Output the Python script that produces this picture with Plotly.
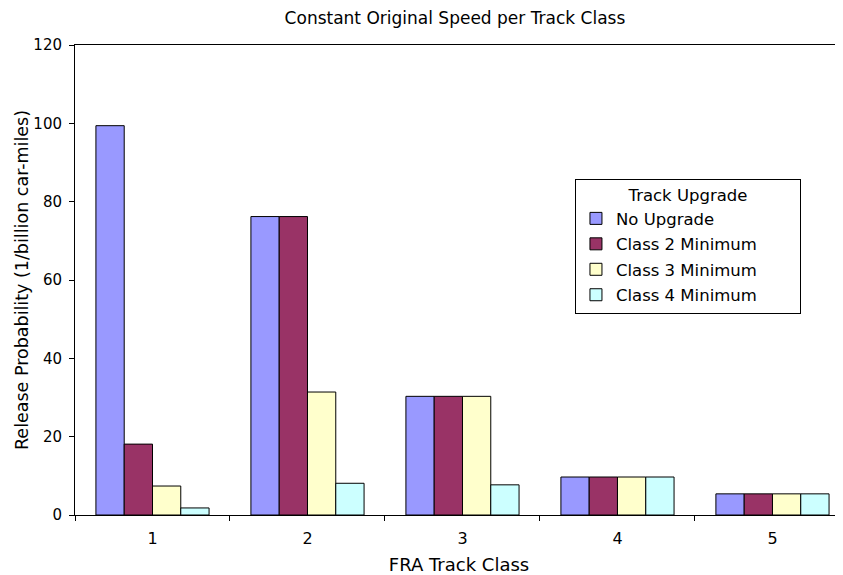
import plotly.graph_objects as go

categories = ["1", "2", "3", "4", "5"]
series_names = ["No Upgrade", "Class 2 Minimum", "Class 3 Minimum", "Class 4 Minimum"]
no_upgrade = [99.4, 76.2, 30.3, 9.7, 5.4]
class2_min = [18.1, 76.2, 30.3, 9.7, 5.4]
class3_min = [7.4, 31.4, 30.3, 9.7, 5.4]
class4_min = [1.8, 8.1, 7.7, 9.7, 5.4]
colors = ["#9999FF", "#993366", "#FFFFCC", "#CCFFFF"]
y_ticks = [0, 20, 40, 60, 80, 100, 120]

fig = go.Figure()
for name, vals, col in zip(series_names, [no_upgrade, class2_min, class3_min, class4_min], colors):
    fig.add_trace(go.Bar(x=categories, y=vals, name=name, legendgroup=name,
                         marker=dict(color=col, line=dict(color="black", width=1))))

pad = "\u00a0" * 9 + "\u2009"
font = "DejaVu Sans, Liberation Sans, Arial, sans-serif"
fig.update_layout(
    width=835, height=567,
    margin=dict(l=67, r=0, t=37, b=60),
    paper_bgcolor="white", plot_bgcolor="white",
    font=dict(family=font, color="black", size=15),
    barmode="group", bargap=0.27, bargroupgap=0,
    title=dict(text="Constant Original Speed per Track Class", x=0.5353, xanchor="center",
               xref="container", y=0.9824, yanchor="middle", font=dict(size=17)),
    legend=dict(title=dict(text=pad + "Track Upgrade" + pad, side="top center", font=dict(size=16.5)),
                x=0.651, y=0.7155, xanchor="left", yanchor="top",
                bordercolor="black", borderwidth=1, bgcolor="white",
                font=dict(size=16.5), tracegroupgap=1),
    xaxis=dict(type="category", range=[-0.5, 4.455], tickson="boundaries",
               ticks="outside", ticklen=5, tickcolor="black", tickfont=dict(size=16),
               ticklabelstandoff=9,
               showline=True, linecolor="black", linewidth=1, mirror=True,
               showgrid=False,
               title=dict(text="FRA Track Class", font=dict(size=18), standoff=15)),
    yaxis=dict(range=[0, 120], tickvals=y_ticks, ticks="outside", ticklen=5, tickcolor="black",
               tickfont=dict(size=15), ticklabelstandoff=4,
               showline=True, linecolor="black", linewidth=1, showgrid=False, zeroline=False,
               title=dict(text="Release Probability (1/billion car-miles)", font=dict(size=17.5), standoff=0)),
)
fig.write_html("out.html")
